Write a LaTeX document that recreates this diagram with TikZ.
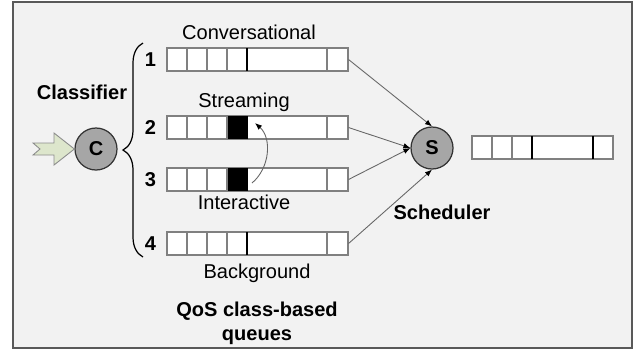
\documentclass[tikz,border=0pt]{standalone}
\usepackage{fontspec}
\setmainfont{Liberation Sans}
\usetikzlibrary{positioning,arrows.meta,decorations.pathreplacing}
\definecolor{panel}{HTML}{F2F2F2}
\definecolor{frameline}{HTML}{595959}
\definecolor{cellline}{HTML}{808080}
\definecolor{ballfill}{HTML}{A6A6A6}
\definecolor{inarrow}{HTML}{DDE6CC}
\newcommand{\dfont}{\fontsize{11.4}{13.7}\selectfont}
\tikzset{
  queue/.style={draw=cellline, fill=white, line width=.6pt, minimum width=36.2mm, minimum height=4.6mm, inner sep=0pt},
  outqueue/.style={queue, minimum width=28.2mm},
  blk/.style={fill=black, minimum width=4mm, minimum height=4.6mm, inner sep=0pt},
  ball/.style={circle, draw=black!80, fill=ballfill, line width=.7pt, minimum size=8.4mm, inner sep=0pt, font=\dfont\bfseries},
  bold/.style={font=\dfont\bfseries, inner sep=0pt},
  flow/.style={-{Latex[length=1.4mm,width=1.1mm,color=black]}, draw=black!60, line width=.5pt},
}
\begin{document}
\begin{tikzpicture}[x=.2mm, y=-.2mm, font=\dfont]
\useasboundingbox (0,0) rectangle (635,349);
\draw[fill=panel, draw=frameline, line width=1pt] (13,2) rectangle (632,348);

% the four class queues
\node[queue] (q1) at (257.5,59.5) {};
\node[queue] (q2) at (257.5,127.5) {};
\node[queue] (q3) at (257.5,179.5) {};
\node[queue] (q4) at (257.5,243.5) {};
\node[blk] (b2) at (237,127.5) {};
\node[blk] (b3) at (237,179.5) {};
\foreach \y in {48,116,168,232} {
  \foreach \x in {187,207,227,327} \draw[cellline, line width=.6pt] (\x,\y) -- (\x,\y+23);
  \draw[line width=.7pt] (247,\y) -- (247,\y+23);
}
\node[bold, left=2mm of q1] (n1) {1};
\node[bold, left=2mm of q2] (n2) {2};
\node[bold, left=2mm of q3] (n3) {3};
\node[bold, left=2mm of q4] (n4) {4};

\node (conv) at (249,32) {Conversational};
\node (strm) at (244,102) {Streaming};
\node (inter) at (244,202) {Interactive};
\node (bgnd) at (257,273) {Background};

% classifier
\node[ball] (C) at (96,149) {C};
\draw[draw=black!45, fill=inarrow, line width=.5pt] (33,143) -- (54,143) -- (54,133) -- (C.west) -- (54,165) -- (54,155) -- (33,155) -- (40,149) -- cycle;
\draw[decorate, decoration={brace, amplitude=4mm}, line width=.7pt] (143,257) -- (143,43);
\node[bold] (clsf) at (82,92) {Classifier};

% scheduler and output queue
\node[ball] (S) at (432,148) {S};
\node[outqueue] (out) at (542.5,147.5) {};
\foreach \x in {492,512} \draw[cellline, line width=.6pt] (\x,136) -- (\x,159);
\foreach \x in {532,593} \draw[line width=.7pt] (\x,136) -- (\x,159);
\node[bold] (sched) at (442,212) {Scheduler};

\draw[flow] (q1.east) -- (S.north);
\draw[flow] (q2.east) -- (S.west);
\draw[flow] (q3.east) -- (S.west);
\draw[flow] (q4.east) -- (S.south);

\coordinate (mv3) at (252,183);
\coordinate (mv2) at (255,123);
\draw[flow] (mv3) .. controls (270,168) and (272,138) .. (mv2);

\node[bold, align=center] (qos) at (257,323) {QoS class-based\\queues};
\end{tikzpicture}
\end{document}
